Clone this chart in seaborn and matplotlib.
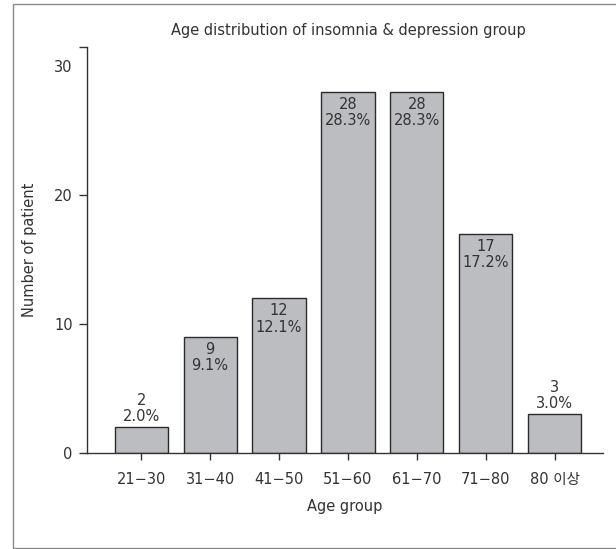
import pandas as pd
import seaborn as sns
import matplotlib.pyplot as plt
from matplotlib.patches import Rectangle

sns.set_style("ticks")
plt.rcParams['font.family'] = ['DejaVu Sans', 'Noto Sans CJK KR']

age_groups = ["21\u221230", "31\u221240", "41\u221250", "51\u221260", "61\u221270", "71\u221280", "80 이상"]
patients = [2, 9, 12, 28, 28, 17, 3]
percent_labels = ["2.0%", "9.1%", "12.1%", "28.3%", "28.3%", "17.2%", "3.0%"]

df = pd.DataFrame({"age": age_groups, "n": patients})

text_col = "#333333"

fig = plt.figure(figsize=(6.16, 5.49), dpi=100)
ax = fig.add_axes([0.1407, 0.1749, 0.979 - 0.1407, 0.9144 - 0.1749])

sns.barplot(data=df, x="age", y="n", color="#bcbdc1", edgecolor="#2b2b2b",
            linewidth=1, width=0.77, saturation=1, ax=ax)

ax.set_xlim(-0.79, 6.70)
ax.set_ylim(0, 31.5)
ax.set_yticks([0, 10, 20, 30])
ax.set_yticks([31.5], minor=True)
ax.yaxis.get_major_ticks()[-1].tick1line.set_visible(False)

for spine in ["top", "right"]:
    ax.spines[spine].set_visible(False)
for spine in ["left", "bottom"]:
    ax.spines[spine].set_color("#333333")
    ax.spines[spine].set_linewidth(1)

ax.tick_params(axis="x", length=5, width=1, pad=9, labelsize=10.5, colors=text_col)
ax.tick_params(axis="y", which="both", length=6, width=1, pad=4, labelsize=10.5, colors=text_col)

ax.set_xlabel("Age group", fontsize=10.5, color=text_col, labelpad=8)
ax.set_ylabel("Number of patient", fontsize=10.5, color=text_col, labelpad=12)

for i, (v, p) in enumerate(zip(patients, percent_labels)):
    label = f"{v}\n{p}"
    if v >= 5:
        ax.text(i, v - 0.4, label, ha="center", va="top", fontsize=10.5,
                color=text_col, linespacing=1.1)
    else:
        ax.text(i, v + 0.25, label, ha="center", va="bottom", fontsize=10.5,
                color=text_col, linespacing=1.1)

fig.text(348.5 / 616, 1 - 30 / 549, "Age distribution of insomnia & depression group",
         ha="center", va="center", fontsize=10.5, color=text_col)

fig.patches.append(Rectangle((12.5 / 616, 1.5 / 549), 1.2, 543.5 / 549,
                             transform=fig.transFigure, fill=False,
                             edgecolor="#8a8a8a", linewidth=1))

fig.savefig("out.png", dpi=100)
